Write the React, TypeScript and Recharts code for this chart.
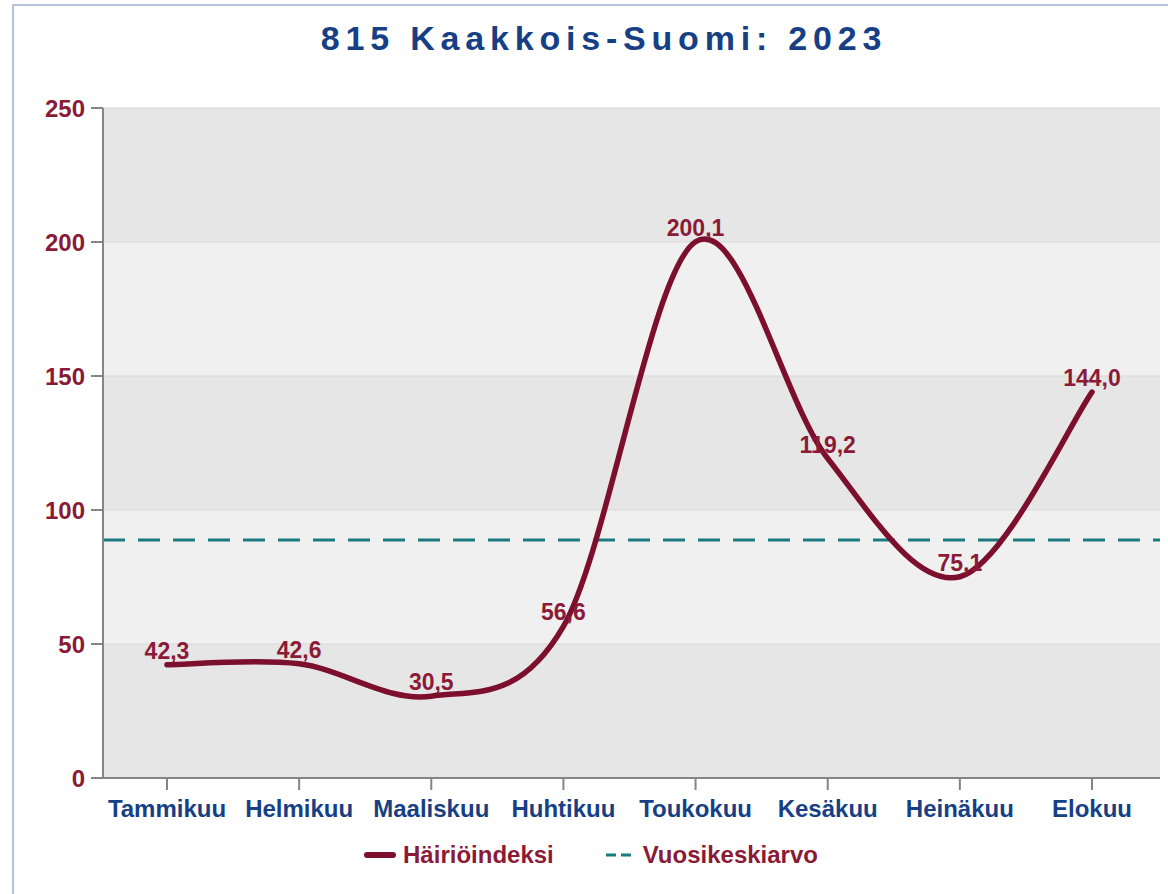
import React from 'react';
import { LineChart, Line, XAxis, YAxis, CartesianGrid, ReferenceLine, LabelList } from 'recharts';

const months = ['Tammikuu', 'Helmikuu', 'Maaliskuu', 'Huhtikuu', 'Toukokuu', 'Kesäkuu', 'Heinäkuu', 'Elokuu'];
const hairioindeksi = [42.3, 42.6, 30.5, 56.6, 200.1, 119.2, 75.1, 144.0];
const vuosikeskiarvo = 88.8;
const yTicks = [0, 50, 100, 150, 200, 250];

const data = months.map((m, i) => ({ kk: m, arvo: hairioindeksi[i] }));

const MAROON = '#7d0f2e';
const LABEL = '#8a1a36';
const NAVY = '#163f86';
const TEAL = '#1b7a80';
const FONT = 'Arial, "Liberation Sans", sans-serif';

// uniform catmull-rom, same feel as the original chart's spline
function catmull(context: any) {
  let pts: number[][] = [];
  return {
    areaStart() {},
    areaEnd() {},
    lineStart() { pts = []; },
    point(x: number, y: number) { pts.push([+x, +y]); },
    lineEnd() {
      if (!pts.length) return;
      context.moveTo(pts[0][0], pts[0][1]);
      for (let i = 0; i < pts.length - 1; i++) {
        const p0 = pts[i - 1] || pts[i];
        const p1 = pts[i];
        const p2 = pts[i + 1];
        const p3 = pts[i + 2] || p2;
        context.bezierCurveTo(
          p1[0] + (p2[0] - p0[0]) / 6, p1[1] + (p2[1] - p0[1]) / 6,
          p2[0] - (p3[0] - p1[0]) / 6, p2[1] - (p3[1] - p1[1]) / 6,
          p2[0], p2[1],
        );
      }
    },
  };
}

const fmt = (v: any) => Number(v).toFixed(1).replace('.', ',');

export default function App() {
  return (
    <div style={{ position: 'absolute', left: 0, top: 0, width: 1168, height: 894, background: '#fff', fontFamily: FONT }}>
      <div style={{ position: 'absolute', left: 12, top: 4, width: 2, height: 890, background: '#b6c3da' }} />
      <div style={{ position: 'absolute', left: 12, top: 4, width: 1156, height: 2, background: '#b6c3da' }} />
      <div style={{ position: 'absolute', left: 0, top: 19, width: 1208, textAlign: 'center', fontSize: 34, fontWeight: 700, letterSpacing: 5.8, color: NAVY }}>
        815 Kaakkois-Suomi: 2023
      </div>
      <div style={{ position: 'absolute', left: 0, top: 0 }}>
        <LineChart width={1168} height={894} data={data} margin={{ top: 108, right: 8, left: 0, bottom: 56 }}>
          <CartesianGrid vertical={false} stroke="#d9d9d9" horizontalFill={['#e6e6e6', '#f0f0f0']} fillOpacity={1} />
          <XAxis dataKey="kk" padding={{ left: 64, right: 68 }} stroke="#858585" strokeWidth={2} tickSize={12}
            tick={{ fill: NAVY, fontSize: 24, fontWeight: 700, fontFamily: FONT }} tickMargin={10} height={60} interval={0} />
          <YAxis domain={[0, 250]} ticks={yTicks} width={103} stroke="#858585" strokeWidth={2} tickSize={12}
            tick={{ fill: LABEL, fontSize: 24, fontWeight: 700, fontFamily: FONT }} tickMargin={6} />
          <ReferenceLine y={vuosikeskiarvo} stroke={TEAL} strokeWidth={3} strokeDasharray="22 13" />
          <Line dataKey="arvo" stroke="none" dot={false} isAnimationActive={false} type={catmull as any}>
            <LabelList dataKey="arvo" position="top" offset={6} formatter={fmt}
              style={{ fill: LABEL, fontSize: 23, fontWeight: 700, fontFamily: FONT }} />
          </Line>
          <Line dataKey="arvo" stroke={MAROON} strokeWidth={5.5} strokeLinecap="round" dot={false} activeDot={false}
            isAnimationActive={false} type={catmull as any} />
        </LineChart>
      </div>
      <div style={{ position: 'absolute', left: 0, top: 841, width: 1168, display: 'flex', justifyContent: 'center', alignItems: 'center', fontSize: 24, fontWeight: 700, color: LABEL, paddingLeft: 14, boxSizing: 'border-box' }}>
        <svg width={32} height={10} style={{ marginRight: 7 }}>
          <line x1={3} y1={5} x2={29} y2={5} stroke={MAROON} strokeWidth={6} strokeLinecap="round" />
        </svg>
        <span>Häiriöindeksi</span>
        <svg width={30} height={10} style={{ marginLeft: 50, marginRight: 9 }}>
          <line x1={2} y1={5} x2={28} y2={5} stroke={TEAL} strokeWidth={3} strokeDasharray="10 5" />
        </svg>
        <span>Vuosikeskiarvo</span>
      </div>
    </div>
  );
}
